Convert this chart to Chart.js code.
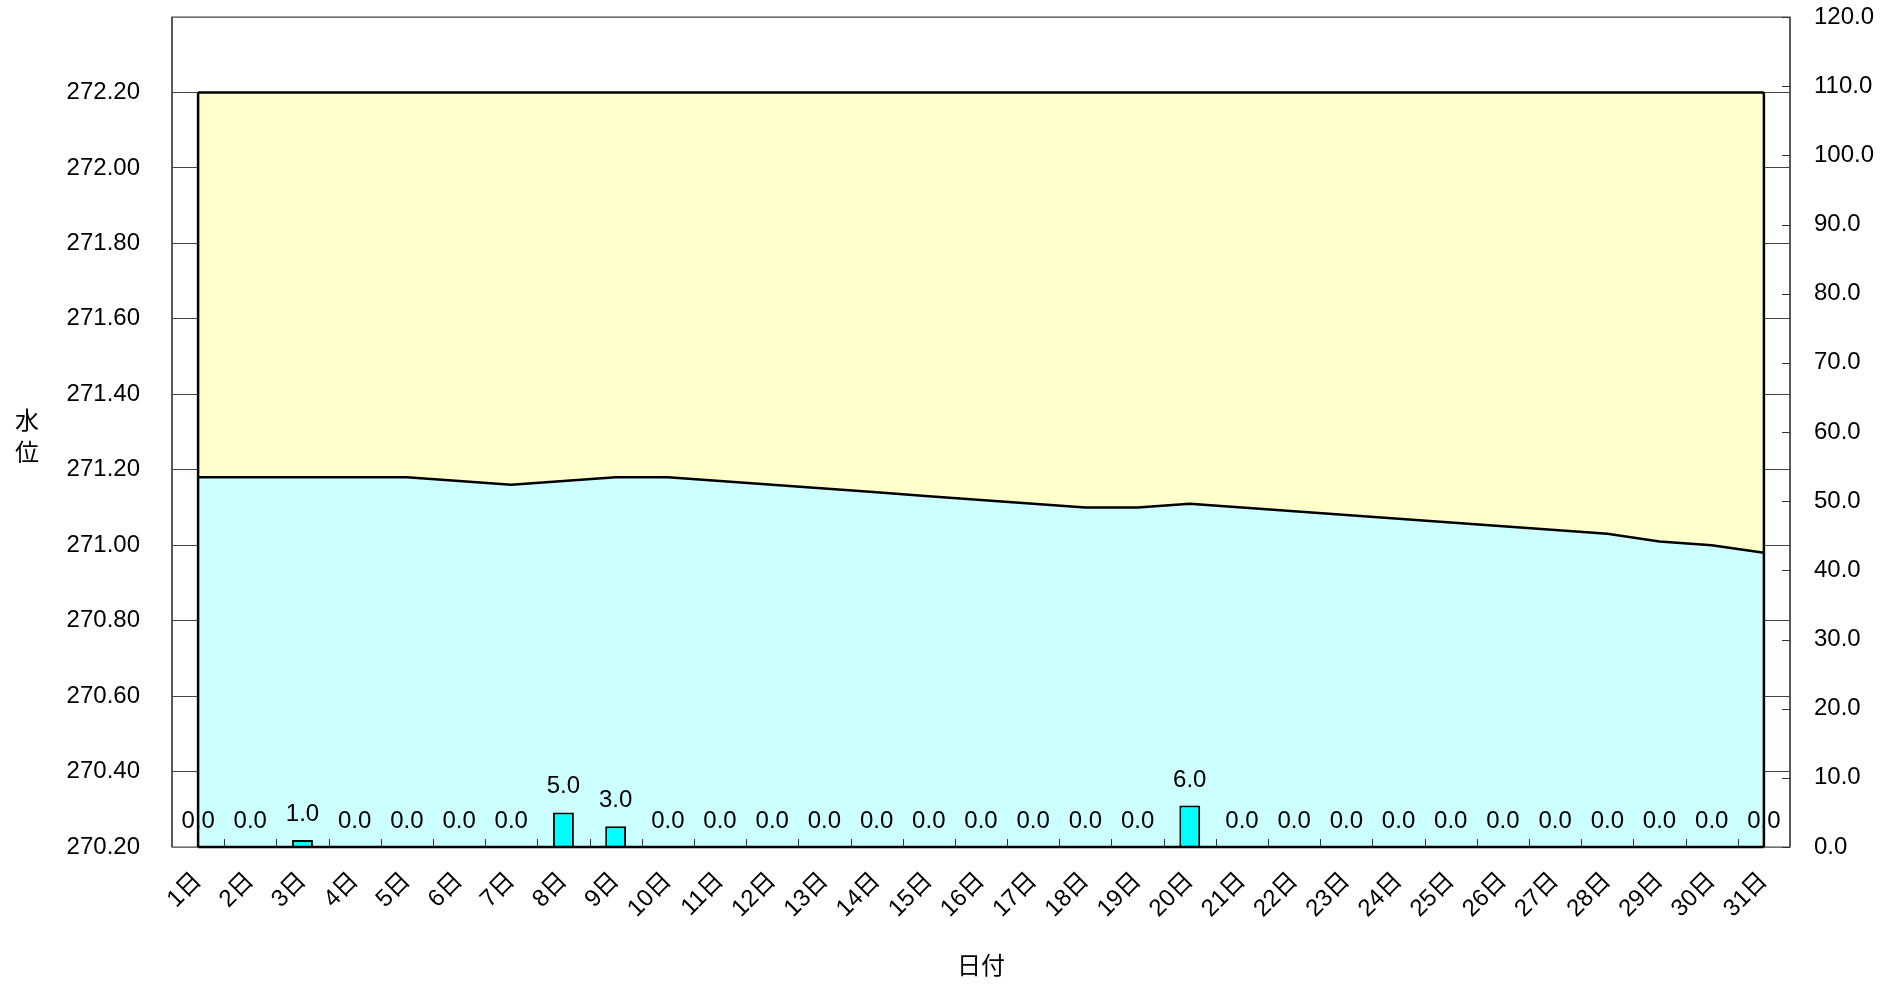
<!DOCTYPE html>
<html>
<head>
<meta charset="utf-8">
<script src="https://cdn.jsdelivr.net/npm/chart.js@4"></script>
<style>
  body { margin: 0; background: #fff; }
  #wrap { width: 1903px; height: 988px; }
</style>
</head>
<body>
<div id="wrap"><canvas id="grafico"></canvas></div>
<script>
// 日付
const dias = ['1日','2日','3日','4日','5日','6日','7日','8日','9日','10日','11日','12日','13日','14日','15日','16日','17日','18日','19日','20日','21日','22日','23日','24日','25日','26日','27日','28日','29日','30日','31日'];
// 水位 (m)
const nivel = [271.18,271.18,271.18,271.18,271.18,271.17,271.16,271.17,271.18,271.18,271.17,271.16,271.15,271.14,271.13,271.12,271.11,271.10,271.10,271.11,271.10,271.09,271.08,271.07,271.06,271.05,271.04,271.03,271.01,271.00,270.98];
// 満水位
const nivelMax = dias.map(() => 272.20);
// 雨量 (mm)
const chuva = [0,0,1,0,0,0,0,5,3,0,0,0,0,0,0,0,0,0,0,6,0,0,0,0,0,0,0,0,0,0,0];

const fonte = '"Liberation Sans", "Noto Sans CJK JP", sans-serif';

// bordas, marcas internas e rótulos das barras
const extras = {
    id: 'extras',
    afterDatasetsDraw(chart) {
        const ctx = chart.ctx;
        const a = chart.chartArea;
        const x = chart.scales.x, y = chart.scales.y, y1 = chart.scales.y1;
        ctx.save();

        // moldura
        ctx.strokeStyle = '#808080';
        ctx.lineWidth = 1.5;
        ctx.strokeRect(a.left, a.top, a.right - a.left, a.bottom - a.top);
        ctx.strokeStyle = '#444';
        ctx.beginPath();
        ctx.moveTo(a.left, a.top); ctx.lineTo(a.left, a.bottom);
        ctx.moveTo(a.right, a.top); ctx.lineTo(a.right, a.bottom);
        ctx.stroke();

        // contorno da área
        const xa = x.getPixelForValue(0), xb = x.getPixelForValue(dias.length - 1);
        const yt = y.getPixelForValue(272.20), yb = y.getPixelForValue(270.20);
        ctx.strokeStyle = '#000';
        ctx.lineWidth = 2.5;
        ctx.beginPath();
        ctx.moveTo(xa, yt); ctx.lineTo(xa, yb);
        ctx.moveTo(xb, yt); ctx.lineTo(xb, yb);
        ctx.moveTo(xa, yb); ctx.lineTo(xb, yb);
        ctx.stroke();

        // marcas do eixo x (entre os dias)
        ctx.lineWidth = 1;
        ctx.strokeStyle = '#333';
        ctx.beginPath();
        for (let i = 0; i < dias.length - 1; i++) {
            const px = Math.round((x.getPixelForValue(i) + x.getPixelForValue(i + 1)) / 2) + 0.5;
            ctx.moveTo(px, yb); ctx.lineTo(px, yb - 8);
        }
        // marcas do eixo direito
        y1.ticks.forEach(t => {
            const py = Math.round(y1.getPixelForValue(t.value)) + 0.5;
            ctx.moveTo(a.right - 8, py); ctx.lineTo(a.right, py);
        });
        ctx.stroke();

        // rótulos das barras
        const meta = chart.getDatasetMeta(0);
        ctx.fillStyle = '#000';
        ctx.font = '24px ' + fonte;
        ctx.textAlign = 'center';
        ctx.textBaseline = 'alphabetic';
        meta.data.forEach((bar, i) => {
            ctx.fillText(chuva[i].toFixed(1), bar.x, bar.y - 19);
        });

        // título do eixo y
        ctx.textBaseline = 'middle';
        ctx.fillText('水', 27, 422);
        ctx.fillText('位', 27, 454);
        ctx.restore();
    }
};

const ctx = document.getElementById('grafico').getContext('2d');
const grafico = new Chart(ctx, {
    type: 'bar',
    data: {
        labels: dias,
        datasets: [
            {
                label: '雨量',
                data: chuva,
                yAxisID: 'y1',
                backgroundColor: '#00FFFF',
                borderColor: '#000',
                borderWidth: 2,
                barPercentage: 0.4,
                categoryPercentage: 1,
                order: 0
            },
            {
                type: 'line',
                label: '水位',
                data: nivel,
                yAxisID: 'y',
                borderColor: '#000',
                borderWidth: 2.5,
                backgroundColor: '#CCFFFF',
                fill: 'start',
                pointRadius: 0,
                tension: 0,
                order: 1
            },
            {
                type: 'line',
                label: '満水位',
                data: nivelMax,
                yAxisID: 'y',
                borderColor: '#000',
                borderWidth: 2.5,
                backgroundColor: '#FFFFCC',
                fill: 'start',
                pointRadius: 0,
                tension: 0,
                order: 2
            }
        ]
    },
    options: {
        responsive: true,
        maintainAspectRatio: false,
        animation: false,
        layout: {
            padding: { top: 17, left: 0, right: 0, bottom: 0 }
        },
        plugins: {
            legend: { display: false },
            tooltip: { enabled: false }
        },
        scales: {
            x: {
                offset: true,
                grid: { display: false },
                border: { display: false },
                ticks: {
                    autoSkip: false,
                    maxRotation: 45,
                    minRotation: 45,
                    padding: 12,
                    color: '#000',
                    font: { size: 24, family: fonte }
                },
                title: {
                    display: true,
                    text: '日付',
                    color: '#000',
                    padding: { top: 0, bottom: 6 },
                    font: { size: 24, family: fonte }
                },
                afterFit(s) { s.height = 141; s.paddingLeft = 0; s.paddingRight = 0; }
            },
            y: {
                position: 'left',
                min: 270.2,
                max: 272.4,
                grid: { color: '#444', lineWidth: 1, drawTicks: false },
                border: { display: false },
                ticks: {
                    stepSize: 0.2,
                    padding: 32,
                    color: '#000',
                    font: { size: 24, family: fonte },
                    callback: v => v > 272.3 ? '' : v.toFixed(2)
                },
                afterFit(s) { s.width = 172; s.paddingTop = 0; s.paddingBottom = 0; }
            },
            y1: {
                position: 'right',
                min: 0,
                max: 120,
                grid: { drawOnChartArea: false, drawTicks: false },
                border: { display: false },
                ticks: {
                    stepSize: 10,
                    padding: 24,
                    color: '#000',
                    font: { size: 24, family: fonte },
                    callback: v => v.toFixed(1)
                },
                afterFit(s) { s.width = 113; s.paddingTop = 0; s.paddingBottom = 0; }
            }
        }
    },
    plugins: [extras]
});
</script>
</body>
</html>
